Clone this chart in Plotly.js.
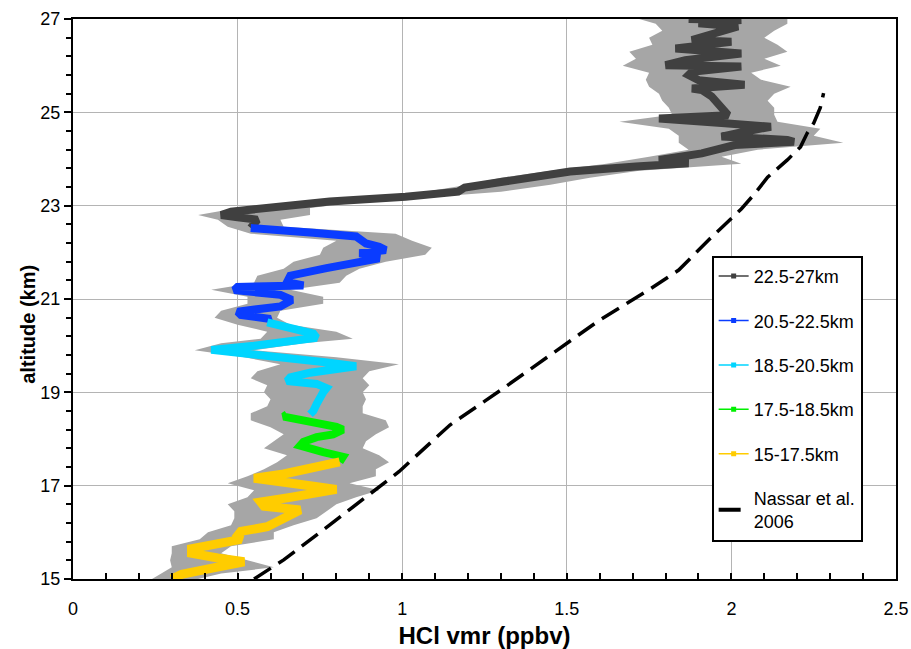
<!DOCTYPE html>
<html>
<head>
<meta charset="utf-8">
<script src="https://cdn.plot.ly/plotly-3.0.1.min.js"></script>
<style>html,body{margin:0;padding:0;background:#fff}#chart{width:911px;height:649px}</style>
</head>
<body>
<div id="chart"></div>
<script>
// ---- data ----
const yellowAlt = [15.0, 15.1, 15.2, 15.3, 15.37, 15.45, 15.55, 15.65, 15.75, 15.85, 15.93, 16.02, 16.12, 16.26, 16.41, 16.48, 16.56, 16.65, 16.75, 16.85, 16.92, 17.0, 17.1, 17.16, 17.25, 17.35, 17.45, 17.51];
const yellowX   = [0.30, 0.33, 0.40, 0.49, 0.52, 0.44, 0.36, 0.36, 0.44, 0.51, 0.50, 0.51, 0.59, 0.63, 0.68, 0.69, 0.58, 0.57, 0.66, 0.76, 0.80, 0.72, 0.58, 0.55, 0.64, 0.72, 0.79, 0.81];

const greenAlt = [17.51, 17.62, 17.72, 17.8, 17.86, 17.94, 18.04, 18.1, 18.2, 18.26, 18.34, 18.43, 18.48, 18.53];
const greenX   = [0.81, 0.82, 0.76, 0.71, 0.69, 0.70, 0.74, 0.79, 0.82, 0.80, 0.73, 0.67, 0.64, 0.65];

const cyanAlt = [18.53, 18.6, 18.75, 18.9, 19.0, 19.09, 19.18, 19.24, 19.32, 19.42, 19.5, 19.56, 19.65, 19.75, 19.85, 19.91, 20.0, 20.1, 20.17, 20.26, 20.35, 20.42, 20.5];
const cyanX   = [0.72, 0.73, 0.74, 0.75, 0.76, 0.77, 0.74, 0.65, 0.66, 0.72, 0.80, 0.86, 0.76, 0.62, 0.49, 0.42, 0.55, 0.68, 0.74, 0.73, 0.68, 0.62, 0.59];

const blueAlt = [20.5, 20.57, 20.66, 20.73, 20.84, 20.98, 21.09, 21.19, 21.26, 21.29, 21.36, 21.5, 21.66, 21.78, 21.87, 21.94, 21.98, 22.05, 22.12, 22.19, 22.34, 22.42, 22.48, 22.52];
const blueX   = [0.59, 0.60, 0.51, 0.50, 0.63, 0.665, 0.63, 0.49, 0.50, 0.70, 0.65, 0.66, 0.77, 0.86, 0.93, 0.91, 0.87, 0.95, 0.93, 0.89, 0.86, 0.73, 0.56, 0.54];

const darkAlt = [22.52, 22.6, 22.7, 22.75, 22.8, 22.87, 22.96, 23.09, 23.19, 23.3, 23.39, 23.55, 23.73, 23.84, 23.91, 23.98, 24.12, 24.3, 24.37, 24.41, 24.48, 24.6, 24.69, 24.77, 24.87, 24.94, 25.12, 25.34, 25.48, 25.51, 25.59, 25.69, 25.8, 25.87, 25.98, 26.01, 26.12, 26.26, 26.37, 26.51, 26.55, 26.69, 26.84, 26.91, 26.98, 27.0];
const darkX   = [0.54, 0.55, 0.56, 0.50, 0.45, 0.48, 0.59, 0.78, 1.01, 1.17, 1.19, 1.33, 1.51, 1.71, 1.87, 1.78, 1.91, 2.01, 2.19, 2.17, 1.97, 2.05, 2.12, 1.97, 1.78, 1.99, 1.97, 1.94, 1.91, 1.88, 2.04, 1.90, 1.87, 1.88, 2.03, 1.80, 1.86, 2.03, 1.83, 2.00, 1.88, 1.94, 2.02, 1.90, 2.03, 1.87];

const bandAlt  = [15.0, 15.12, 15.25, 15.4, 15.55, 15.7, 15.85, 16.0, 16.15, 16.3, 16.45, 16.6, 16.75, 16.9, 17.05, 17.2, 17.35, 17.5, 17.65, 17.8, 17.95, 18.1, 18.25, 18.4, 18.55, 18.7, 18.85, 19.0, 19.15, 19.3, 19.45, 19.6, 19.75, 19.9, 20.05, 20.15, 20.3, 20.45, 20.6, 20.75, 20.9, 21.05, 21.2, 21.35, 21.5, 21.65, 21.8, 21.95, 22.1, 22.25, 22.4, 22.55, 22.7, 22.8, 22.95, 23.1, 23.2, 23.3, 23.45, 23.6, 23.75, 23.9, 24.05, 24.2, 24.35, 24.5, 24.65, 24.8, 24.95, 25.1, 25.25, 25.4, 25.55, 25.7, 25.85, 26.0, 26.15, 26.3, 26.45, 26.6, 26.75, 26.9, 27.0];
const bandLow  = [0.24, 0.27, 0.30, 0.295, 0.30, 0.30, 0.385, 0.41, 0.48, 0.49, 0.49, 0.47, 0.53, 0.55, 0.47, 0.53, 0.58, 0.62, 0.65, 0.58, 0.61, 0.64, 0.60, 0.54, 0.54, 0.59, 0.60, 0.58, 0.59, 0.54, 0.56, 0.63, 0.52, 0.37, 0.45, 0.57, 0.59, 0.50, 0.43, 0.45, 0.53, 0.53, 0.42, 0.55, 0.56, 0.64, 0.67, 0.75, 0.76, 0.80, 0.54, 0.47, 0.44, 0.38, 0.50, 0.70, 0.90, 1.07, 1.20, 1.30, 1.45, 1.62, 1.75, 1.87, 1.84, 1.84, 1.81, 1.66, 1.82, 1.81, 1.79, 1.78, 1.75, 1.74, 1.75, 1.67, 1.71, 1.69, 1.76, 1.75, 1.79, 1.77, 1.72];
const bandHigh = [0.38, 0.45, 0.61, 0.53, 0.45, 0.48, 0.61, 0.61, 0.67, 0.74, 0.77, 0.80, 0.86, 0.93, 0.84, 0.92, 0.92, 0.96, 0.93, 0.88, 0.89, 0.92, 0.96, 0.95, 0.88, 0.88, 0.89, 0.88, 0.90, 0.88, 0.90, 0.99, 0.80, 0.55, 0.70, 0.85, 0.80, 0.66, 0.62, 0.63, 0.76, 0.76, 0.66, 0.81, 0.83, 0.87, 0.95, 1.07, 1.09, 1.03, 0.98, 0.64, 0.63, 0.72, 0.72, 0.90, 1.12, 1.30, 1.45, 1.57, 1.72, 2.03, 1.97, 2.08, 2.34, 2.25, 2.27, 2.14, 2.13, 2.13, 2.11, 2.13, 2.18, 2.09, 2.06, 2.15, 2.10, 2.17, 2.14, 2.10, 2.13, 2.17, 2.17];

const nassarAlt = [15.0, 15.41, 16.16, 16.8, 17.3, 18.3, 19.05, 19.8, 20.55, 21.2, 21.62, 22.26, 22.93, 23.25, 23.61, 23.98, 24.26, 24.55, 24.77, 25.1, 25.41];
const nassarX   = [0.55, 0.64, 0.78, 0.90, 0.99, 1.145, 1.30, 1.45, 1.60, 1.75, 1.84, 1.93, 2.03, 2.07, 2.11, 2.17, 2.21, 2.23, 2.25, 2.27, 2.28];

const seriesNames = ['22.5-27km', '20.5-22.5km', '18.5-20.5km', '17.5-18.5km', '15-17.5km', 'Nassar et al.<br>2006'];
const xTicks = [0, 0.5, 1, 1.5, 2, 2.5];
const xTickText = ['0', '0.5', '1', '1.5', '2', '2.5'];
const yTicks = [15, 17, 19, 21, 23, 25, 27];
const xTitle = 'HCl vmr (ppbv)';
const yTitle = 'altitude (km)';

// ---- styles ----
const colDark = '#404040', colBlue = '#0a3cff', colCyan = '#00d5ff', colGreen = '#00f000', colYellow = '#ffcc00';
const FONT = 'Liberation Sans, Arial, Helvetica, sans-serif';

const traces = [];
// uncertainty band
traces.push({
  x: bandLow.concat(bandHigh.slice().reverse()),
  y: bandAlt.concat(bandAlt.slice().reverse()),
  mode: 'lines', fill: 'toself', fillcolor: '#a6a6a6',
  line: {width: 0, color: '#a6a6a6'}, showlegend: false, hoverinfo: 'skip'
});
const segs = [
  [darkX, darkAlt, colDark, 8],
  [blueX, blueAlt, colBlue, 8],
  [cyanX, cyanAlt, colCyan, 8],
  [greenX, greenAlt, colGreen, 8],
  [yellowX, yellowAlt, colYellow, 9]
];
segs.forEach(s => traces.push({
  x: s[0], y: s[1], mode: 'lines', line: {color: s[2], width: s[3], shape: 'linear'},
  showlegend: false
}));
traces.push({
  x: nassarX, y: nassarAlt, mode: 'lines', line: {color: '#000', width: 3.5, dash: '20px,9px'},
  showlegend: false
});
// legend entries
const legCols = [colDark, colBlue, colCyan, colGreen, colYellow];
legCols.forEach((c, i) => traces.push({
  x: [null], y: [null], mode: 'lines+markers', name: seriesNames[i],
  line: {color: c, width: 1.5}, marker: {symbol: 'square', size: 5, color: c},
  legendgroup: 'g' + i
}));
traces.push({
  x: [null], y: [null], mode: 'lines', name: seriesNames[5],
  line: {color: '#000', width: 4, dash: '22px,12px,3px,12px'}, legendgroup: 'g5'
});

const layout = {
  width: 911, height: 649,
  margin: {l: 73, r: 15, t: 19, b: 70},
  paper_bgcolor: '#fff', plot_bgcolor: '#fff',
  font: {family: FONT, size: 18, color: '#000'},
  showlegend: true,
  legend: {
    x: 0.776, y: 0.577, xanchor: 'left', yanchor: 'top',
    bordercolor: '#000', borderwidth: 2, bgcolor: '#fff',
    font: {family: FONT, size: 18, color: '#000'},
    traceorder: 'grouped', tracegroupgap: 18
  },
  xaxis: {
    range: [0, 2.5], tickmode: 'array', tickvals: xTicks, ticktext: xTickText,
    showgrid: true, gridcolor: '#b4b4b4', gridwidth: 1,
    showline: true, linecolor: '#000', linewidth: 2, mirror: true,
    ticks: 'inside', ticklen: 6, tickwidth: 2, tickcolor: '#000',
    ticklabelstandoff: 12,
    minor: {dtick: 0.1, tick0: 0, ticks: 'inside', ticklen: 6, tickwidth: 2, tickcolor: '#000', showgrid: false},
    zeroline: false,
    tickfont: {family: FONT, size: 18},
    title: {text: '<b>' + xTitle + '</b>', font: {family: FONT, size: 24}, standoff: 11}
  },
  yaxis: {
    range: [15, 27], tickmode: 'array', tickvals: yTicks,
    showgrid: true, gridcolor: '#b4b4b4', gridwidth: 1,
    showline: true, linecolor: '#000', linewidth: 2, mirror: true,
    ticks: 'outside', ticklen: 7, tickwidth: 2, tickcolor: '#000',
    minor: {dtick: 0.4, tick0: 15, ticks: 'outside', ticklen: 5, tickwidth: 2, tickcolor: '#000', showgrid: false},
    zeroline: false,
    tickfont: {family: FONT, size: 18}
  },
  annotations: [{
    text: '<b>' + yTitle + '</b>', xref: 'paper', yref: 'paper',
    x: -0.054, y: 0.455, xanchor: 'center', yanchor: 'middle',
    textangle: -90, showarrow: false, font: {family: FONT, size: 20, color: '#000'}
  }]
};

Plotly.newPlot('chart', traces, layout, {staticPlot: true, displayModeBar: false});
</script>
</body>
</html>
